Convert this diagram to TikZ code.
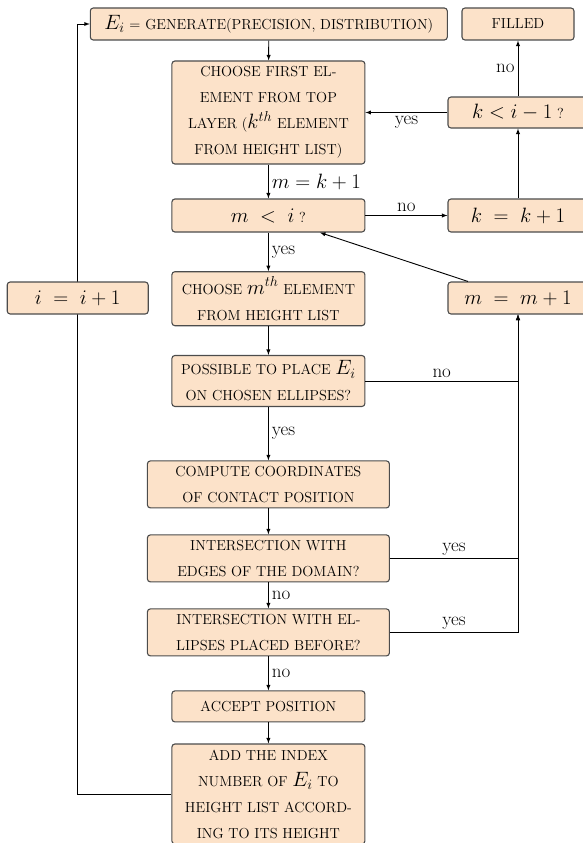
\documentclass[tikz,border=0pt]{standalone}
\usetikzlibrary{shapes,arrows,positioning,calc}

\definecolor{peach}{RGB}{252,226,201}
\newcommand{\boxfont}{\fontsize{14.5}{26}\selectfont}
\newcommand{\mathbig}{\fontsize{21}{26}\selectfont}
\tikzset{
  block/.style={rectangle, draw=black!70, fill=peach, line width=1.1pt, rounded corners=3pt, align=center, inner sep=2pt, font=\boxfont},
  flow/.style={->, >=latex, line width=0.9pt},
  lbl/.style={font=\fontsize{19}{23}\selectfont, inner sep=3pt},
}

\begin{document}
\begin{tikzpicture}[x=1pt, y=-1pt]
    \useasboundingbox (0,0) rectangle (583,843);
    % main column
    \node[block, minimum width=357pt, minimum height=32pt] (gen) at (268.8,24) {{\mathbig $E_i$} = GENERATE(PRECISION, DISTRIBUTION)};
    \node[block, minimum width=193pt, minimum height=103pt] (first) at (268.4,112.5) {CHOOSE FIRST EL-\\EMENT FROM TOP\\LAYER ({\mathbig $k^{th}$} ELEMENT\\FROM HEIGHT LIST)};
    \node[block, minimum width=193pt, minimum height=33pt] (mless) at (268.4,215.5) {{\mathbig $m \;<\; i$} ?};
    \node[block, minimum width=193pt, minimum height=54pt] (mth) at (268.4,298.7) {CHOOSE {\mathbig $m^{th}$} ELEMENT\\FROM HEIGHT LIST};
    \node[block, minimum width=193pt, minimum height=51pt] (possible) at (268.4,381) {POSSIBLE TO PLACE {\mathbig $E_i$}\\ON CHOSEN ELLIPSES?};
    \node[block, minimum width=242pt, minimum height=47pt] (compute) at (268.4,484.4) {COMPUTE COORDINATES\\OF CONTACT POSITION};
    \node[block, minimum width=242pt, minimum height=47pt] (edges) at (268.4,558.4) {INTERSECTION WITH\\EDGES OF THE DOMAIN?};
    \node[block, minimum width=242pt, minimum height=47pt] (ellip) at (268.4,632.4) {INTERSECTION WITH EL-\\LIPSES PLACED BEFORE?};
    \node[block, minimum width=193pt, minimum height=31pt] (accept) at (268.4,706.4) {ACCEPT POSITION};
    \node[block, minimum width=193pt, minimum height=100pt] (add) at (268.4,794) {ADD THE INDEX\\NUMBER OF {\mathbig $E_i$} TO\\HEIGHT LIST ACCORD-\\ING TO ITS HEIGHT};
    % right column
    \node[block, minimum width=112pt, minimum height=32pt] (filled) at (518,24) {FILLED};
    \node[block, minimum width=140pt, minimum height=31pt] (kless) at (518,112.5) {{\mathbig $k < i-1$} ?};
    \node[block, minimum width=140pt, minimum height=33pt] (kinc) at (518,215.5) {\mathbig $k \;=\; k+1$};
    \node[block, minimum width=140pt, minimum height=32pt] (minc) at (518,298) {\mathbig $m \;=\; m+1$};
    % left loop, drawn first so the box covers it
    \path (77.7,298) coordinate (incpos);
    \draw[line width=0.9pt] (add.west) -| (incpos);
    \draw[flow] (incpos) |- (gen.west);
    \node[block, minimum width=141pt, minimum height=32pt] (inc) at (incpos) {\mathbig $i \;=\; i+1$};

    \draw[flow] (gen) -- (first);
    \draw[flow] (first) -- (mless) node[lbl, midway, right] {\mathbig $m = k+1$};
    \draw[flow] (mless) -- (kinc) node[lbl, midway, above] {no};
    \draw[flow] (kinc) -- (kless);
    \draw[flow] (kless) -- (filled) node[lbl, midway, left] {no};
    \draw[flow] (kless) -- (first) node[lbl, midway, below] {yes};
    \draw[flow] (mless) -- (mth) node[lbl, midway, right] {yes};
    \draw[flow] (minc) -- (mless);
    \draw[flow] (mth) -- (possible);
    \draw[flow] (possible) -- (compute) node[lbl, midway, right] {yes};
    \draw[flow] (compute) -- (edges);
    \draw[flow] (edges) -- (ellip) node[lbl, midway, right] {no};
    \draw[flow] (ellip) -- (accept) node[lbl, midway, right] {no};
    \draw[flow] (accept) -- (add);
    \draw[flow] (possible.east) -| (minc.south) node[lbl, pos=0.25, above] {no};
    \draw[flow] (edges.east) -| (minc.south) node[lbl, pos=0.25, above] {yes};
    \draw[flow] (ellip.east) -| (minc.south) node[lbl, pos=0.25, above] {yes};
\end{tikzpicture}
\end{document}
